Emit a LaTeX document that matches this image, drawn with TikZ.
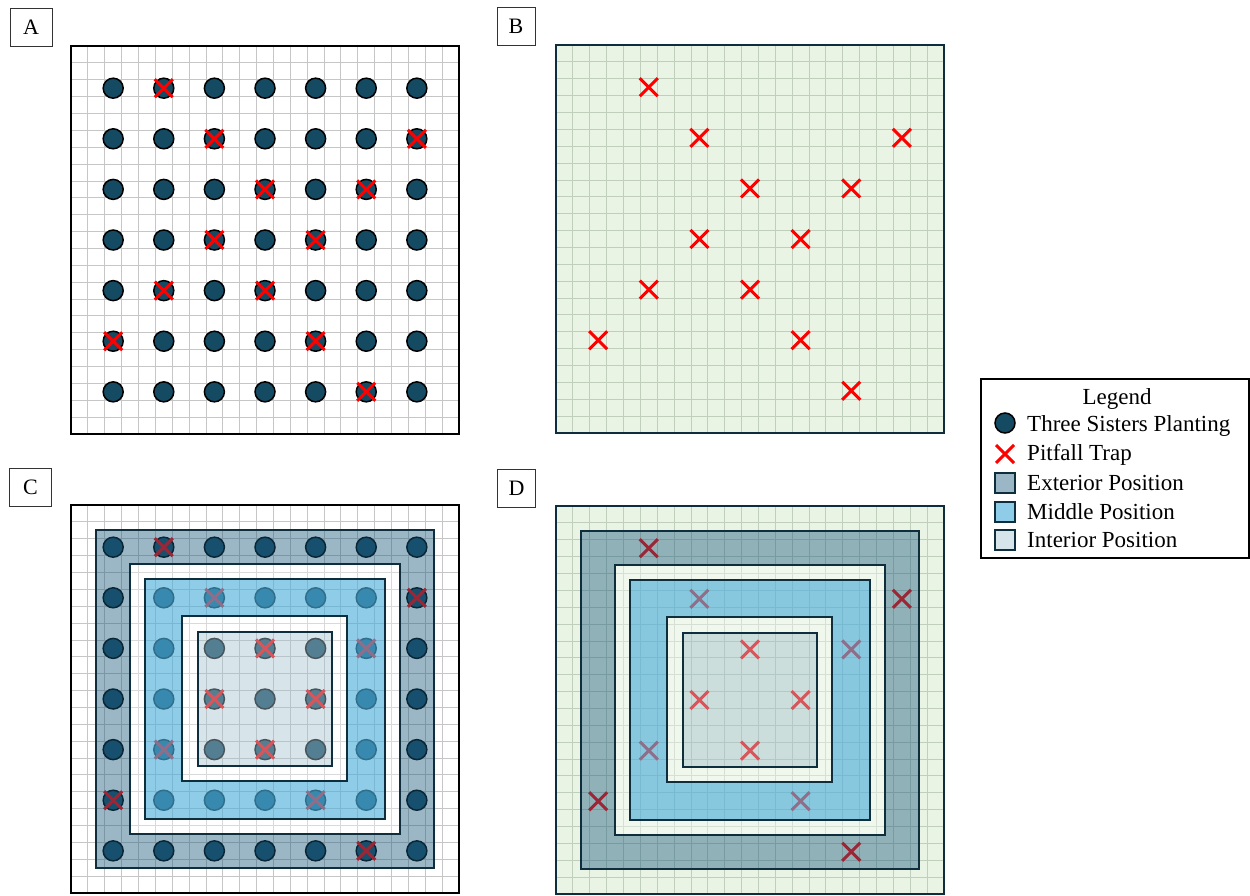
\documentclass[tikz,border=0pt]{standalone}
\usepackage{fontspec}
\setmainfont{Liberation Serif}
\usetikzlibrary{shapes.misc}
\definecolor{plantc}{RGB}{21,74,99}
\definecolor{navy}{RGB}{15,46,61}
\definecolor{extc}{RGB}{25,90,125}
\definecolor{midc}{RGB}{78,175,220}
\definecolor{intc}{RGB}{166,195,209}
\definecolor{bgB}{RGB}{233,244,228}
\definecolor{gridA}{RGB}{198,198,198}
\definecolor{gridB}{RGB}{192,206,188}
\tikzset{
  plant/.style={circle, fill=plantc, draw=black, line width=1.5pt, minimum size=20pt, inner sep=0pt},
  trap/.style={cross out, draw=red, line width=3pt, minimum size=15pt, inner sep=0pt},
  panellab/.style={draw=black!80, line width=1pt, font=\fontsize{22}{24}\selectfont, inner sep=0pt, minimum height=38pt},
  gridlineA/.style={draw=gridA, line width=0.9pt},
  gridlineB/.style={draw=gridB, line width=0.9pt},
  extfill/.style={fill=extc, fill opacity=0.43},
  midfill/.style={fill=midc, fill opacity=0.63},
  intfill/.style={fill=intc, fill opacity=0.44},
  whitefill/.style={fill=white, fill opacity=0.35},
  zoneborder/.style={draw=navy, line width=2pt},
  legtext/.style={anchor=west, font=\fontsize{23}{26}\selectfont, inner sep=0pt},
}
\newcommand\mygrid[1]{%
  \foreach \i in {1,...,22} {
    \draw[#1] (\i,0) -- (\i,23);
    \draw[#1] (0,\i) -- (23,\i);
  }}
\newcommand\myplants{%
  \foreach \r in {0,...,6} {
    \foreach \c in {0,...,6} {
      \node[plant] (p-\c-\r) at ({2.5+3*\c},{2.5+3*\r}) {};
    }
  }}
\newcommand\mytraps{%
  \foreach \c/\r in {2/1,3/2,7/2,4/3,6/3,3/4,5/4,2/5,4/5,1/6,5/6,6/7} {
    \node[trap] (t-\c-\r) at ({3*\c-0.5},{3*\r-0.5}) {};
  }}
\newcommand\myzones{%
  \fill[extfill, even odd rule] (1.5,1.5) rectangle (21.5,21.5) (3.5,3.5) rectangle (19.5,19.5);
  \fill[whitefill, even odd rule] (3.5,3.5) rectangle (19.5,19.5) (4.4,4.4) rectangle (18.6,18.6);
  \fill[midfill, even odd rule] (4.4,4.4) rectangle (18.6,18.6) (6.6,6.6) rectangle (16.35,16.35);
  \fill[whitefill, even odd rule] (6.6,6.6) rectangle (16.35,16.35) (7.5,7.5) rectangle (15.5,15.5);
  \fill[intfill] (7.5,7.5) rectangle (15.5,15.5);
  \draw[zoneborder] (1.5,1.5) rectangle (21.5,21.5);
  \draw[zoneborder] (3.5,3.5) rectangle (19.5,19.5);
  \draw[zoneborder] (4.4,4.4) rectangle (18.6,18.6);
  \draw[zoneborder] (6.6,6.6) rectangle (16.35,16.35);
  \draw[zoneborder] (7.5,7.5) rectangle (15.5,15.5);}
\begin{document}
\begin{tikzpicture}[x=1pt, y=-1pt]
\useasboundingbox (0,0) rectangle (1250,895);
\fill[white] (0,0) rectangle (1250,895);

% Panel labels
\node[panellab, minimum width=42pt] (labA) at (31,27) {A};
\node[panellab, minimum width=38pt] (labB) at (516,26.5) {B};
\node[panellab, minimum width=42pt] (labC) at (30.5,487) {C};
\node[panellab, minimum width=38pt] (labD) at (516.5,488) {D};

% Panel A
\begin{scope}[shift={(71,46)}, x=16.87pt, y=-16.87pt, name prefix=A-]
  \mygrid{gridlineA}
  \draw[black, line width=2pt] (0,0) rectangle (23,23);
  \myplants
  \mytraps
\end{scope}

% Panel B
\begin{scope}[shift={(556,45)}, x=16.87pt, y=-16.87pt, name prefix=B-]
  \fill[bgB] (0,0) rectangle (23,23);
  \mygrid{gridlineB}
  \draw[navy, line width=2pt] (0,0) rectangle (23,23);
  \mytraps
\end{scope}

% Panel C
\begin{scope}[shift={(71,505)}, x=16.87pt, y=-16.87pt, name prefix=C-]
  \mygrid{gridlineA}
  \draw[black, line width=2pt] (0,0) rectangle (23,23);
  \myplants
  \mytraps
  \myzones
\end{scope}

% Panel D
\begin{scope}[shift={(556,506)}, x=16.87pt, y=-16.87pt, name prefix=D-]
  \fill[bgB] (0,0) rectangle (23,23);
  \mygrid{gridlineB}
  \draw[navy, line width=2pt] (0,0) rectangle (23,23);
  \mytraps
  \myzones
\end{scope}

% Legend
\draw[black, line width=1.5pt] (981,379) rectangle (1249,558);
\node[font=\fontsize{23}{26}\selectfont, inner sep=0pt] (legtitle) at (1117,399) {Legend};
\node[plant] (legplant) at (1005,423) {};
\node[legtext] (legplantt) at (1027,426) {Three Sisters Planting};
\node[trap] (legtrap) at (1005,454) {};
\node[legtext] (legtrapt) at (1027,455) {Pitfall Trap};
\fill[extfill] (995,473) rectangle (1015,493);
\draw[zoneborder, line width=1.5pt] (995,473) rectangle (1015,493);
\node[legtext] (legext) at (1027,483) {Exterior Position};
\fill[midfill] (995,502) rectangle (1015,522);
\draw[zoneborder, line width=1.5pt] (995,502) rectangle (1015,522);
\node[legtext] (legmid) at (1027,512) {Middle Position};
\fill[intfill] (995,530) rectangle (1015,550);
\draw[zoneborder, line width=1.5pt] (995,530) rectangle (1015,550);
\node[legtext] (legint) at (1027,540) {Interior Position};
\end{tikzpicture}
\end{document}
